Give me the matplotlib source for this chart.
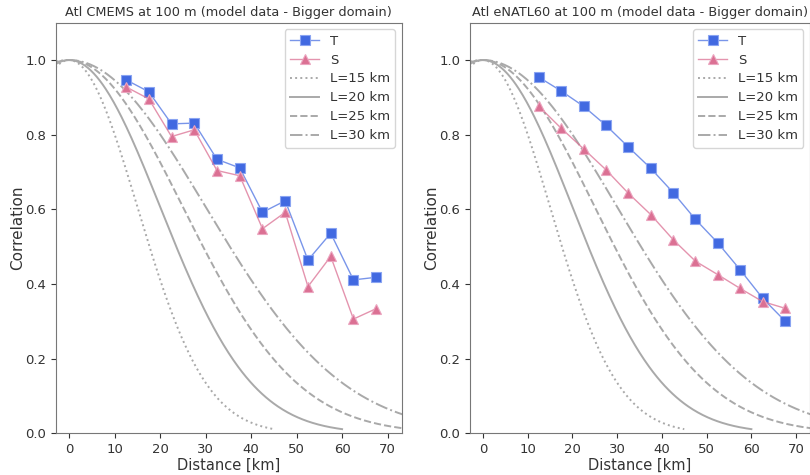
import numpy as np
import matplotlib
matplotlib.use('Agg')
import matplotlib.pyplot as plt
from matplotlib.colors import to_rgba

# bin centres of the distance classes [km]
dist = [12.5, 17.5, 22.5, 27.5, 32.5, 37.5, 42.5, 47.5, 52.5, 57.5, 62.5, 67.5]

# Atl CMEMS
cmems_T = [0.947, 0.915, 0.829, 0.831, 0.734, 0.711, 0.592, 0.623, 0.464, 0.536, 0.411, 0.418]
cmems_S = [0.928, 0.896, 0.795, 0.813, 0.704, 0.690, 0.548, 0.592, 0.393, 0.474, 0.306, 0.334]

# Atl eNATL60
enatl_T = [0.954, 0.917, 0.876, 0.825, 0.767, 0.710, 0.645, 0.573, 0.510, 0.438, 0.362, 0.301]
enatl_S = [0.876, 0.817, 0.762, 0.706, 0.643, 0.586, 0.519, 0.461, 0.425, 0.388, 0.353, 0.335]

# gaussian reference length scales [km]
scales = [15, 20, 25, 30]
styles = [':', '-', '--', '-.']

titles = ['Atl CMEMS at 100 m (model data - Bigger domain)',
          'Atl eNATL60 at 100 m (model data - Bigger domain)']

blue = 'royalblue'
pink = 'palevioletred'

fig = plt.figure(figsize=(8.1, 4.75), dpi=100)
ax1 = fig.add_axes([0.0691, 0.0878, 0.4268, 0.8644])
ax2 = fig.add_axes([0.5802, 0.0878, 0.4198, 0.8644])

for ax, T, S, title in [(ax1, cmems_T, cmems_S, titles[0]), (ax2, enatl_T, enatl_S, titles[1])]:
    # line a bit transparent, markers solid
    ax.plot(dist, T, '-s', color=to_rgba(blue, 0.7), lw=1, ms=7,
            mfc=blue, mec='#8aa4f2', mew=0.8, label='T', zorder=3)
    ax.plot(dist, S, '-^', color=to_rgba(pink, 0.75), lw=1, ms=7.5,
            mfc=pink, mec='#eba5bf', mew=0.8, label='S', zorder=3)
    for L, ls in zip(scales, styles):
        x = np.linspace(-5, 3 * L, 300)
        ax.plot(x, np.exp(-x**2 / (2.0 * L**2)), ls, color='darkgray', lw=1.4,
                label=f'L={L} km')
    ax.set_xlim(-2.9, 73.1)
    ax.set_ylim(0, 1.1)
    ax.set_xticks(range(0, 80, 10))
    ax.set_yticks([0.0, 0.2, 0.4, 0.6, 0.8, 1.0])
    ax.tick_params(labelsize=9.5, colors='#333333')
    ax.set_xlabel('Distance [km]', fontsize=10.5, color='#333333', labelpad=1)
    ax.set_ylabel('Correlation', fontsize=11, color='#333333', labelpad=0)
    ax.set_title(title, fontsize=9.3, color='#333333', pad=5)
    for sp in ax.spines.values():
        sp.set_color('#777777')
    leg = ax.legend(loc='upper right', fontsize=9.5, handlelength=2.2,
                    borderpad=0.4, labelspacing=0.45)
    for txt in leg.get_texts():
        txt.set_color('#333333')

fig.savefig('out.png', dpi=100)
